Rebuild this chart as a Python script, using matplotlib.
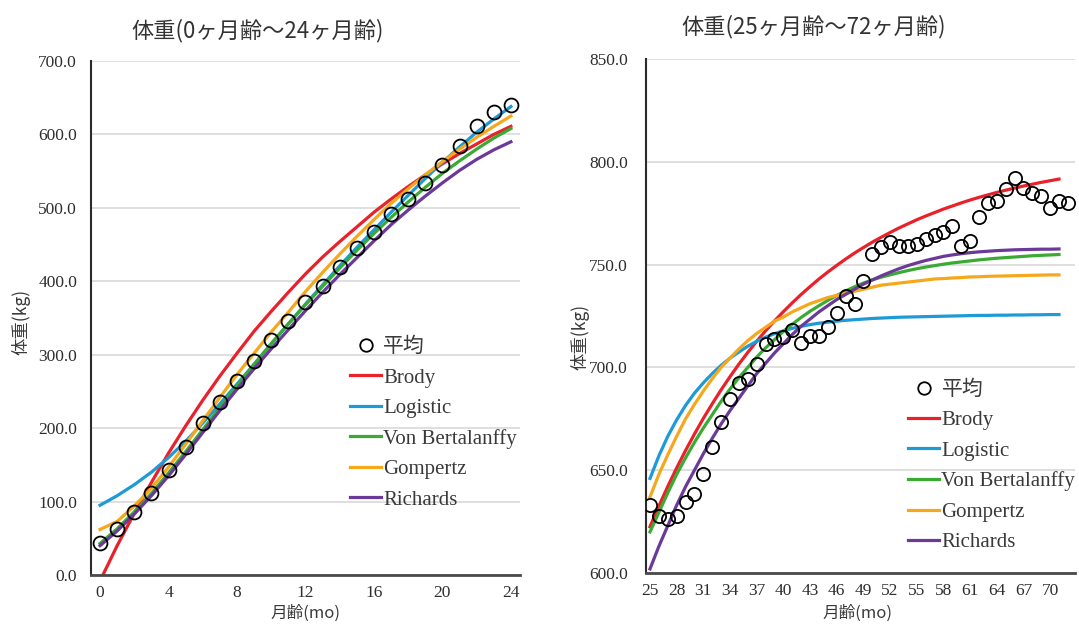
import matplotlib
matplotlib.use('Agg')
import matplotlib.pyplot as plt
from matplotlib.lines import Line2D

plt.rcParams['font.family'] = ['Noto Sans CJK JP', 'DejaVu Sans']

# 0-24 months
months_a = list(range(0, 25))
avg_a = [44, 63, 86, 112, 143, 174, 207, 236, 264, 292, 320, 346, 372, 393, 420,
         445, 467, 491, 512, 534, 559, 584, 611, 631, 640]
brody_a = [-8, 40, 84, 126, 166, 203, 238, 271, 302, 332, 359, 385, 410, 433, 454,
           474, 494, 512, 529, 545, 560, 574, 587, 600, 611]
logistic_a = [95, 108, 123, 140, 160, 182, 207, 233, 260, 287, 315, 342, 369, 395, 421,
              446, 470, 494, 517, 540, 562, 583, 603, 621, 638]
vb_a = [43, 63, 86, 111, 139, 168, 198, 228, 258, 287, 315, 342, 368, 393, 418,
        442, 465, 487, 508, 528, 547, 564, 580, 595, 608]
gompertz_a = [62, 73, 94, 118, 147, 178, 210, 242, 273, 302, 331, 358, 386, 412, 437,
              461, 484, 506, 526, 545, 563, 580, 596, 611, 625]
richards_a = [40, 60, 83, 108, 135, 164, 194, 224, 253, 281, 308, 334, 360, 385, 409,
              432, 455, 477, 497, 516, 534, 551, 566, 579, 590]

# 25-72 months
months_b = list(range(25, 73))
avg_b = [633, 627.8, 626.2, 627.8, 634.6, 638.3, 648.4, 661.3, 673.5, 684.8,
         692.6, 694.2, 701.8, 711.5, 714, 714.7, 718, 711.8, 715.5, 715.5,
         719.6, 726.4, 734.5, 730.6, 741.9, 755.2, 758.4, 760.8, 759.2, 759.2,
         760, 762.5, 764.4, 765.7, 768.9, 759.2, 761.3, 773, 780.2, 781,
         787, 792, 787.5, 785, 783.5, 777.3, 781, 780.2]
fit_months_b = list(range(25, 72))
brody_b = [622.5, 632.6, 642.1, 651.1, 659.6, 667.6, 675.2, 682.3, 689.1, 695.5,
           701.6, 707.3, 712.7, 717.8, 722.6, 727.1, 731.4, 735.5, 739.3, 743.0,
           746.4, 749.6, 752.7, 755.6, 758.3, 760.9, 763.3, 765.6, 767.8, 769.8,
           771.8, 773.6, 775.3, 777.0, 778.5, 780.0, 781.4, 782.7, 783.9, 785.1,
           786.2, 787.2, 788.2, 789.1, 790.0, 790.8, 791.6]
logistic_b = [646, 657, 666.5, 674.5, 681.5, 687.5, 692.5, 697, 701, 704.5,
              707.5, 710.3, 712.7, 714.7, 716.4, 717.8, 719, 720, 720.8, 721.5,
              722, 722.5, 722.9, 723.2, 723.5, 723.8, 724, 724.2, 724.4, 724.5,
              724.6, 724.7, 724.8, 724.9, 725, 725.1, 725.2, 725.3, 725.3, 725.4,
              725.4, 725.5, 725.5, 725.6, 725.6, 725.7, 725.7]
vb_b = [620, 629.5, 639, 648, 656, 663.5, 670.5, 677, 683.5, 689.5,
        695, 700, 705, 709.5, 713.5, 717.5, 721, 724.3, 727.3, 730,
        732.6, 735, 737.2, 739.2, 741, 742.6, 743.9, 745, 746.1, 747.1,
        748, 748.8, 749.5, 750.2, 750.8, 751.3, 751.8, 752.3, 752.7, 753.1,
        753.4, 753.7, 754, 754.3, 754.5, 754.7, 754.9]
gompertz_b = [637, 648, 657.5, 666.5, 675, 682, 688.5, 694.5, 700, 704.5,
              709, 713, 716.5, 719.5, 722.5, 724.5, 727, 729, 731, 732.5,
              734, 735, 736, 737, 738, 739, 740, 740.5, 741, 741.5,
              742, 742.5, 743, 743.2, 743.5, 743.7, 744, 744.1, 744.3, 744.4,
              744.5, 744.6, 744.7, 744.8, 744.9, 745, 745]
richards_b = [602, 613, 623, 633, 642, 650, 658, 665.5, 672.5, 679,
              685, 691, 697, 702, 707, 711.5, 716, 720, 723.5, 727,
              730, 733, 735.5, 738, 740.5, 742.5, 744.5, 746.3, 748, 749.5,
              750.8, 752, 753, 754, 754.7, 755.3, 755.8, 756.2, 756.5, 756.8,
              757, 757.2, 757.3, 757.4, 757.5, 757.5, 757.6]

model_names = ['Brody', 'Logistic', 'Von Bertalanffy', 'Gompertz', 'Richards']
model_colors = ['#e8212b', '#1e9ad6', '#3aaa35', '#f6a81c', '#6b3a98']

serif = ['Liberation Serif', 'DejaVu Serif']
cjk = ['Noto Sans CJK JP', 'DejaVu Sans']
txt_col = '#3a3a3a'

fig = plt.figure(figsize=(10.79, 6.27), dpi=100)
ax1 = fig.add_axes([0.0843, 0.0829, 0.3976, 0.8198])
ax2 = fig.add_axes([0.5987, 0.0861, 0.3976, 0.8198])


def draw(ax, mx, avg, fx, fits, ms):
    for ys, name, col in zip(fits, model_names, model_colors):
        ax.plot(fx, ys, color=col, lw=2.3, label=name, zorder=2)
    ax.plot(mx, avg, ls='none', marker='o', ms=ms, mfc='none', mec='black',
            mew=1.3, zorder=3)


def style(ax, ypad):
    ax.grid(axis='y', color='#dcdcdc', lw=1.3)
    ax.set_axisbelow(True)
    for s in ['top', 'right']:
        ax.spines[s].set_visible(False)
    ax.spines['left'].set_color('#2b2b2b')
    ax.spines['left'].set_linewidth(1.5)
    ax.spines['bottom'].set_color('#4a4a4a')
    ax.spines['bottom'].set_linewidth(2)
    ax.tick_params(axis='both', length=0, colors='#2e2e2e', labelsize=12.5)
    ax.tick_params(axis='y', pad=ypad)
    ax.tick_params(axis='x', pad=7)
    for lab in ax.get_xticklabels() + ax.get_yticklabels():
        lab.set_family(serif)
    ax.yaxis.set_major_formatter(plt.FormatStrFormatter('%.1f'))


def legend(ax, anchor):
    handles = [Line2D([], [], ls='none', marker='o', ms=9, mfc='none',
                      mec='black', mew=1.3)]
    handles += [Line2D([], [], color=c, lw=2.3) for c in model_colors]
    labels = ['平均'] + model_names
    ax.legend(handles, labels, loc='upper left', bbox_to_anchor=anchor,
              frameon=False, handlelength=1.5, handletextpad=0.1,
              labelspacing=0.52, borderpad=0, borderaxespad=0,
              prop={'family': serif + cjk, 'size': 15},
              labelcolor=txt_col)


draw(ax1, months_a, avg_a, months_a,
     [brody_a, logistic_a, vb_a, gompertz_a, richards_a], 10)
ax1.set_xlim(-0.53, 24.53)
ax1.set_ylim(0, 700)
ax1.set_xticks(range(0, 25, 4))
ax1.set_yticks(range(0, 701, 100))
style(ax1, 10)
legend(ax1, (0.604, 0.462))

draw(ax2, months_b, avg_b, fit_months_b,
     [brody_b, logistic_b, vb_b, gompertz_b, richards_b], 9.5)
ax2.set_xlim(24.55, 72.8)
ax2.set_ylim(600, 850)
ax2.set_xticks(range(25, 71, 3))
ax2.set_yticks(range(600, 851, 50))
style(ax2, 13)
legend(ax2, (0.611, 0.375))

for ax, ylc, xlc in [(ax1, (-0.142, 0.492), (0.499, -0.058)),
                     (ax2, (-0.132, 0.459), (0.494, -0.062))]:
    ax.set_ylabel('体重(kg)', fontsize=12.5, color=txt_col, family=cjk)
    ax.set_xlabel('月齢(mo)', fontsize=12, color=txt_col, family=cjk)
    ax.yaxis.set_label_coords(*ylc)
    ax.xaxis.set_label_coords(*xlc)

fig.text(0.239, 0.952, '体重(0ヶ月齢～24ヶ月齢)', ha='center', va='center',
         fontsize=16, color='#333333', family=cjk)
fig.text(0.754, 0.957, '体重(25ヶ月齢～72ヶ月齢)', ha='center', va='center',
         fontsize=16, color='#333333', family=cjk)

fig.savefig('out.png', dpi=100, facecolor='white')
